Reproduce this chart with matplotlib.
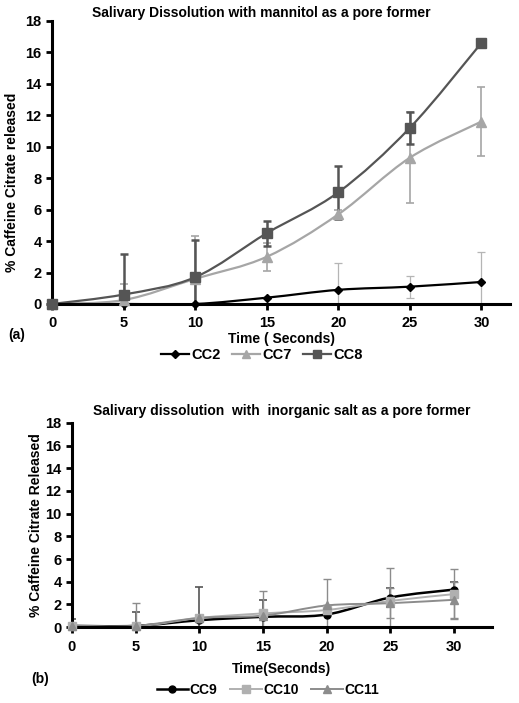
import numpy as np
import matplotlib
matplotlib.use('Agg')
import matplotlib.pyplot as plt
from matplotlib.path import Path
from matplotlib.patches import PathPatch
from matplotlib.lines import Line2D

plt.rcParams['font.family'] = ['Liberation Sans', 'DejaVu Sans']
plt.rcParams['font.weight'] = 'bold'

time = [0, 5, 10, 15, 20, 25, 30]

# (a) mannitol
cc2 = [0, 0, 0, 0.4, 0.9, 1.1, 1.4]
cc2_err = [0, 0, 0, 0, 1.7, 0.7, 1.9]
cc7 = [0, 0.25, 1.6, 3.0, 5.7, 9.3, 11.6]
cc7_err = [0, 1.0, 2.7, 0.9, 0.3, 2.9, 2.2]
cc8 = [0, 0.6, 1.7, 4.5, 7.1, 11.2, 16.6]
cc8_err = [0, 2.6, 2.4, 0.8, 1.7, 1.0, 0]

# (b) inorganic salt
cc9 = [0.1, 0.1, 0.6, 0.9, 1.1, 2.6, 3.3]
cc9_err = [0.6, 1.2, 2.9, 1.5, 0, 0.8, 0.7]
cc10 = [0.1, 0.05, 0.8, 1.2, 1.5, 2.3, 2.9]
cc10_err = [0, 2.1, 0, 2.0, 2.7, 2.9, 2.2]
cc11 = [0.1, 0.1, 0.8, 1.0, 1.9, 2.1, 2.4]
cc11_err = [0, 0, 0, 0, 0, 1.3, 1.6]


def smooth(ax, x, y, color, lw):
    # Excel-like smoothed line (Catmull-Rom as bezier)
    n = len(x)
    verts = [(x[0], y[0])]
    codes = [Path.MOVETO]
    for i in range(n - 1):
        a = max(i - 1, 0)
        b = min(i + 2, n - 1)
        c1 = (x[i] + (x[i + 1] - x[a]) / 6, y[i] + (y[i + 1] - y[a]) / 6)
        c2 = (x[i + 1] - (x[b] - x[i]) / 6, y[i + 1] - (y[b] - y[i]) / 6)
        verts += [c1, c2, (x[i + 1], y[i + 1])]
        codes += [Path.CURVE4] * 3
    ax.add_patch(PathPatch(Path(verts, codes), fill=False, edgecolor=color, lw=lw))


def series(ax, y, err, color, ecolor, marker, ms, lw, elw):
    ax.errorbar(time, y, yerr=err, fmt='none', ecolor=ecolor, elinewidth=elw,
                capsize=3, capthick=elw, zorder=2)
    smooth(ax, time, y, color, lw)
    ax.plot(time, y, ls='none', marker=marker, ms=ms, color=color, zorder=3, clip_on=False)


def style(ax, xmax):
    ax.set_xlim(0, xmax)
    ax.set_ylim(0, 18)
    ax.set_xticks(time)
    ax.set_yticks(range(0, 19, 2))
    for s in ['top', 'right']:
        ax.spines[s].set_visible(False)
    for s in ['left', 'bottom']:
        ax.spines[s].set_linewidth(2.2)
    ax.tick_params(width=2, length=4, labelsize=10.5)
    ax.tick_params(axis='x', pad=5)
    for t in ax.get_xticklabels() + ax.get_yticklabels():
        t.set_fontweight('bold')


fig = plt.figure(figsize=(5.19, 7.03), dpi=100)

ax1 = fig.add_axes([0.1002, 0.5676, 0.8825, 0.4026])
series(ax1, cc2, cc2_err, 'black', '#b5b5b5', 'D', 4.5, 1.6, 0.9)
series(ax1, cc7, cc7_err, '#a6a6a6', '#a6a6a6', '^', 6.5, 1.6, 1.2)
series(ax1, cc8, cc8_err, '#555555', '#555555', 's', 6.5, 1.6, 1.8)
style(ax1, 32)
ax1.set_title('Salivary Dissolution with mannitol as a pore former', fontsize=10,
              fontweight='bold', pad=3, x=0.456)
ax1.set_xlabel('Time ( Seconds)', fontsize=10, fontweight='bold', labelpad=1)
ax1.set_ylabel('% Caffeine Citrate released', fontsize=10, fontweight='bold')
ax1.yaxis.set_label_coords(-0.072, 0.43)
fig.text(8 / 519, 1 - 335 / 703, '(a)', fontsize=10, fontweight='bold', va='center')
h1 = [Line2D([], [], color='black', marker='D', ms=4.5, lw=1.6),
      Line2D([], [], color='#a6a6a6', marker='^', ms=6, lw=1.6),
      Line2D([], [], color='#555555', marker='s', ms=6, lw=1.6)]
fig.legend(h1, ['CC2', 'CC7', 'CC8'], loc='center', bbox_to_anchor=(262 / 519, 1 - 355 / 703),
           ncol=3, frameon=False, handlelength=1.9, columnspacing=0.8,
           handletextpad=0.15, prop={'weight': 'bold', 'size': 10.5})

ax2 = fig.add_axes([0.1387, 0.1081, 0.8093, 0.2902])
series(ax2, cc9, cc9_err, 'black', '#555555', 'o', 5, 1.8, 1.2)
series(ax2, cc10, cc10_err, '#b0b0b0', '#8c8c8c', 's', 5.5, 1.4, 1.0)
series(ax2, cc11, cc11_err, '#8c8c8c', '#8c8c8c', '^', 6, 1.4, 1.0)
style(ax2, 33)
ax2.set_title('Salivary dissolution  with  inorganic salt as a pore former', fontsize=10,
              fontweight='bold', pad=6)
ax2.set_xlabel('Time(Seconds)', fontsize=10, fontweight='bold', labelpad=6)
ax2.set_ylabel('% Caffeine Citrate Released', fontsize=10, fontweight='bold', labelpad=2)
fig.text(31 / 519, 1 - 679 / 703, '(b)', fontsize=10, fontweight='bold', va='center')
h2 = [Line2D([], [], color='black', marker='o', ms=5, lw=1.8),
      Line2D([], [], color='#b0b0b0', marker='s', ms=5.5, lw=1.4),
      Line2D([], [], color='#8c8c8c', marker='^', ms=6, lw=1.4)]
fig.legend(h2, ['CC9', 'CC10', 'CC11'], loc='center', bbox_to_anchor=(268 / 519, 1 - 690 / 703),
           ncol=3, frameon=False, handlelength=2.3, columnspacing=0.9,
           handletextpad=0.1, prop={'weight': 'bold', 'size': 10})

fig.savefig('out.png', dpi=100)
